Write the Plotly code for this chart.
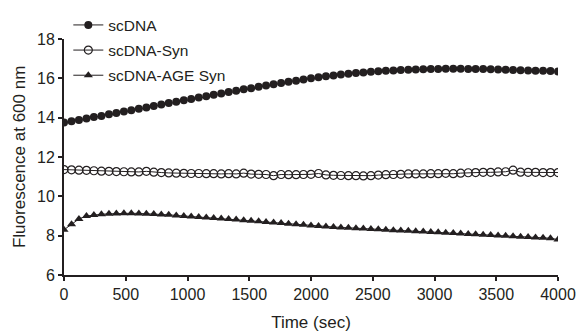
import plotly.graph_objects as go

n_points = 67
time_sec = [round(i * 4000 / 66) for i in range(n_points)]

scdna = [13.75, 13.82, 13.88, 13.96, 14.03, 14.09, 14.17, 14.24, 14.31, 14.38,
         14.45, 14.52, 14.59, 14.67, 14.74, 14.81, 14.88, 14.95, 15.02, 15.09,
         15.16, 15.23, 15.30, 15.37, 15.44, 15.50, 15.57, 15.63, 15.70, 15.76,
         15.82, 15.88, 15.94, 16.00, 16.05, 16.10, 16.15, 16.19, 16.23, 16.27,
         16.30, 16.33, 16.36, 16.38, 16.40, 16.42, 16.44, 16.45, 16.46, 16.47,
         16.48, 16.49, 16.49, 16.49, 16.48, 16.47, 16.47, 16.46, 16.45, 16.44,
         16.43, 16.41, 16.40, 16.39, 16.38, 16.37, 16.35]

scdna_syn = [11.36, 11.35, 11.33, 11.32, 11.30, 11.28, 11.27, 11.26, 11.25, 11.24,
             11.24, 11.27, 11.23, 11.21, 11.19, 11.18, 11.17, 11.16, 11.16, 11.15,
             11.15, 11.14, 11.15, 11.14, 11.18, 11.13, 11.12, 11.11, 11.05, 11.11,
             11.10, 11.10, 11.11, 11.12, 11.16, 11.09, 11.07, 11.06, 11.05, 11.05,
             11.04, 11.05, 11.08, 11.10, 11.11, 11.12, 11.14, 11.14, 11.14, 11.15,
             11.15, 11.17, 11.15, 11.18, 11.20, 11.21, 11.22, 11.22, 11.24, 11.25,
             11.33, 11.23, 11.22, 11.22, 11.21, 11.21, 11.21]

scdna_age_syn = [8.30, 8.58, 8.85, 9.00, 9.05, 9.09, 9.11, 9.13, 9.14, 9.14,
                 9.13, 9.12, 9.10, 9.08, 9.06, 9.03, 9.00, 8.98, 8.95, 8.92,
                 8.90, 8.87, 8.85, 8.82, 8.79, 8.76, 8.73, 8.70, 8.67, 8.64,
                 8.61, 8.58, 8.55, 8.52, 8.49, 8.47, 8.44, 8.42, 8.40, 8.38,
                 8.36, 8.34, 8.32, 8.30, 8.28, 8.26, 8.25, 8.23, 8.21, 8.19,
                 8.17, 8.15, 8.13, 8.11, 8.09, 8.07, 8.05, 8.03, 8.01, 7.99,
                 7.97, 7.95, 7.93, 7.91, 7.89, 7.87, 7.80]

series_names = ["scDNA", "scDNA-Syn", "scDNA-AGE Syn"]
x_ticks = [0, 500, 1000, 1500, 2000, 2500, 3000, 3500, 4000]
y_ticks = [6, 8, 10, 12, 14, 16, 18]
x_title = "Time (sec)"
y_title = "Fluorescence at 600 nm"

ink = "#231f20"
font_family = "Liberation Sans, Arial, sans-serif"

fig = go.Figure()
fig.add_trace(go.Scatter(
    x=time_sec, y=scdna, name=series_names[0], mode="lines+markers",
    legendgroup="a",
    line=dict(color=ink, width=1),
    marker=dict(symbol="circle", size=8, color=ink, line=dict(width=0))))
fig.add_trace(go.Scatter(
    x=time_sec, y=scdna_syn, name=series_names[1], mode="lines+markers",
    legendgroup="b",
    line=dict(color=ink, width=1),
    marker=dict(symbol="circle-open", size=8, color=ink, line=dict(width=1.2, color=ink))))
fig.add_trace(go.Scatter(
    x=time_sec, y=scdna_age_syn, name=series_names[2], mode="lines+markers",
    legendgroup="c",
    line=dict(color=ink, width=1),
    marker=dict(symbol="triangle-up", size=8, color=ink, line=dict(width=0))))

fig.update_layout(
    width=579, height=334,
    margin=dict(l=64, r=21, t=39, b=59, autoexpand=False),
    paper_bgcolor="white", plot_bgcolor="white",
    font=dict(family=font_family, size=16, color=ink),
    showlegend=True,
    legend=dict(
        xref="container", yref="container",
        x=0.118, y=0.975, xanchor="left", yanchor="top",
        bgcolor="rgba(0,0,0,0)", font=dict(size=15.5, color=ink),
        tracegroupgap=2, itemwidth=30,
    ),
    xaxis=dict(
        range=[0, 4000], tickvals=x_ticks, ticks="outside", ticklen=4,
        tickwidth=1.5, tickcolor=ink, showline=True, linecolor=ink, linewidth=1.8,
        showgrid=False, zeroline=False, automargin=False,
        title=dict(text=x_title, standoff=14, font=dict(size=17)),
        tickfont=dict(size=16),
    ),
    yaxis=dict(
        range=[6, 18], tickvals=y_ticks, ticks="outside", ticklen=4,
        tickwidth=1.5, tickcolor=ink, showline=True, linecolor=ink, linewidth=1.8,
        showgrid=False, zeroline=False, automargin=False,
        tickfont=dict(size=16),
    ),
    annotations=[dict(
        text=y_title, textangle=-90, showarrow=False,
        xref="paper", yref="paper", x=-0.091, y=0.5,
        xanchor="center", yanchor="middle",
        font=dict(size=17, color=ink, family=font_family),
    )],
)

fig.write_html("out.html")
